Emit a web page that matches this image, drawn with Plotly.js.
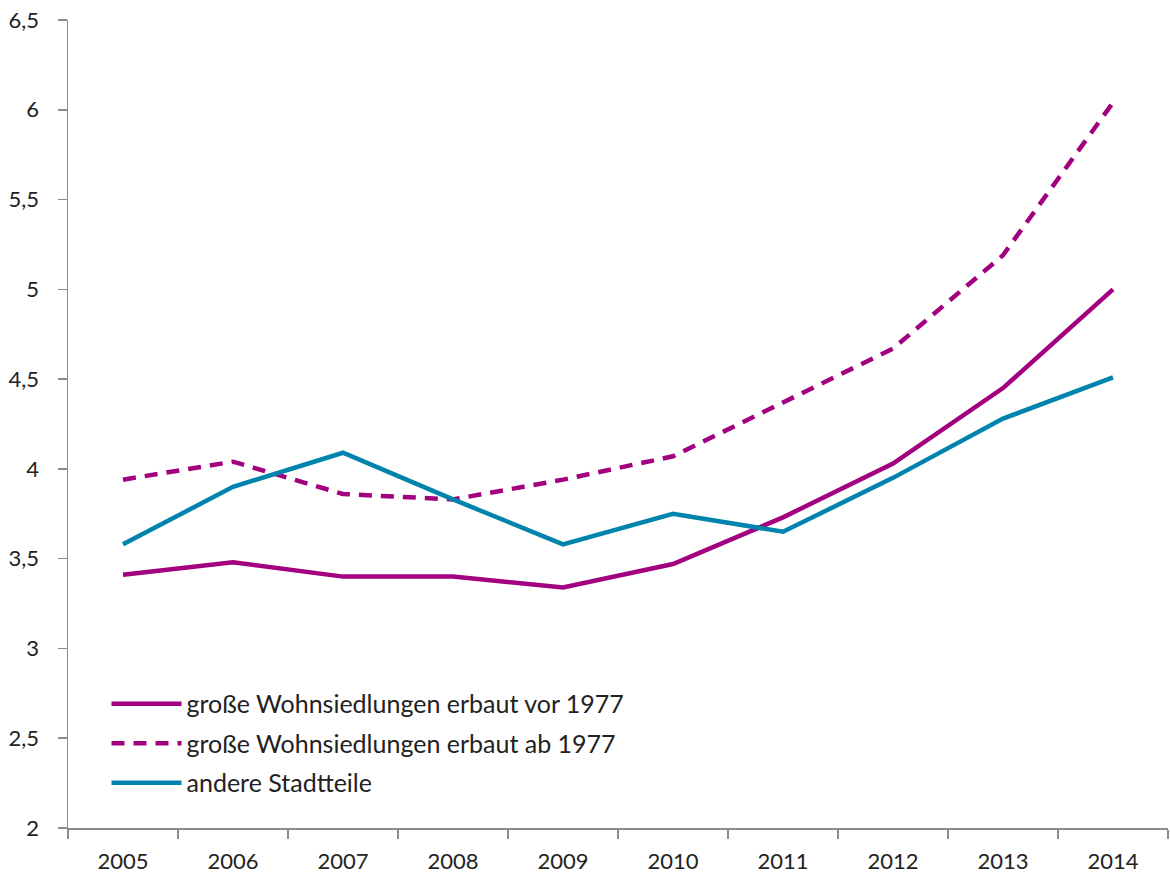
<!DOCTYPE html>
<html>
<head>
<meta charset="utf-8">
<script src="https://cdn.plot.ly/plotly-3.0.1.min.js"></script>
<style>html,body{margin:0;padding:0;background:#fff;}#chart{width:1170px;height:876px;}</style>
</head>
<body>
<div id="chart"></div>
<script>
const years = ["2005","2006","2007","2008","2009","2010","2011","2012","2013","2014"];
const vor1977 = [3.41, 3.48, 3.40, 3.40, 3.34, 3.47, 3.73, 4.03, 4.45, 5.00];
const ab1977 = [3.94, 4.04, 3.86, 3.83, 3.94, 4.07, 4.37, 4.67, 5.19, 6.04];
const andere = [3.58, 3.90, 4.09, 3.83, 3.58, 3.75, 3.65, 3.95, 4.28, 4.51];
const names = ["große Wohnsiedlungen erbaut vor 1977", "große Wohnsiedlungen erbaut ab 1977", "andere Stadtteile"];

const magenta = "#A2007E", blue = "#0083AC";
const traces = [
  {x: years, y: vor1977, name: names[0], legendgroup: "a", type: "scatter", mode: "lines", line: {color: magenta, width: 4.5}},
  {x: years, y: ab1977, name: names[1], legendgroup: "b", type: "scatter", mode: "lines", line: {color: magenta, width: 4.5, dash: "13px,9px"}},
  {x: years, y: andere, name: names[2], legendgroup: "c", type: "scatter", mode: "lines", line: {color: blue, width: 4.5}}
];
const font = {family: "Lato, 'Open Sans', sans-serif", size: 22, color: "#222"};
const layout = {
  width: 1170, height: 876,
  margin: {l: 68, r: 2, t: 20, b: 48},
  separators: ",.",
  font: font,
  showlegend: true,
  legend: {x: 0.035, y: 0.182, xanchor: "left", yanchor: "top", bgcolor: "rgba(0,0,0,0)",
           font: {family: font.family, size: 25, color: "#222"}, tracegroupgap: 4, itemwidth: 70},
  xaxis: {type: "category", range: [-0.5, 9.5], showgrid: false, zeroline: false,
          showline: true, linecolor: "#8c8c8c", linewidth: 1.5,
          ticks: "outside", tickson: "boundaries", ticklen: 9, tickcolor: "#8c8c8c", tickwidth: 1.5,
          ticklabelstandoff: 13, tickfont: font, fixedrange: true},
  yaxis: {range: [2, 6.5], dtick: 0.5, tick0: 2, showgrid: false, zeroline: false,
          showline: true, linecolor: "#8c8c8c", linewidth: 1.5,
          ticks: "outside", ticklen: 9, tickcolor: "#8c8c8c", tickwidth: 1.5,
          ticklabelstandoff: 14, tickfont: font, fixedrange: true},
  plot_bgcolor: "#fff", paper_bgcolor: "#fff"
};
Plotly.newPlot("chart", traces, layout, {displayModeBar: false, staticPlot: true});
</script>
</body>
</html>
